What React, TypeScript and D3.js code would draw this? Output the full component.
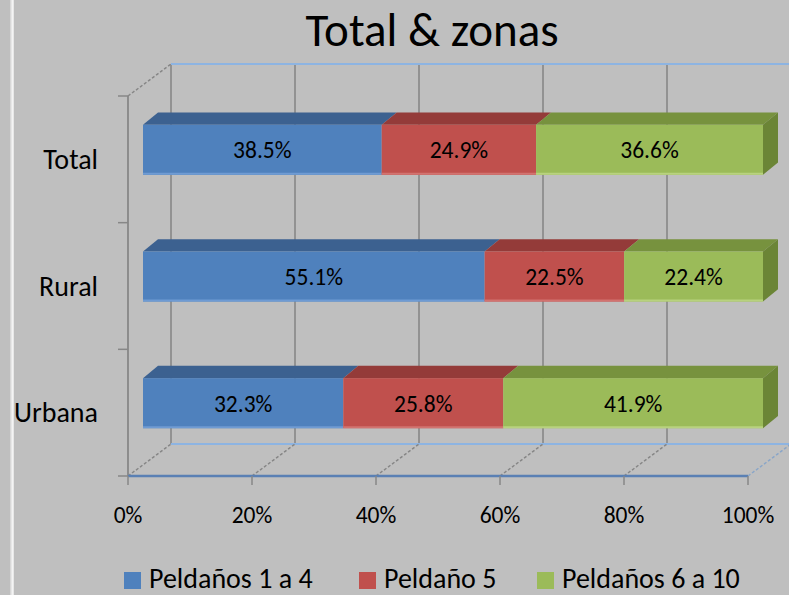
import React from "react";
import * as d3 from "d3";

const categories = ["Total", "Rural", "Urbana"];
const peldanos1a4 = [38.5, 55.1, 32.3];
const peldano5 = [24.9, 22.5, 25.8];
const peldanos6a10 = [36.6, 22.4, 41.9];
const seriesNames = ["Peldaños 1 a 4", "Peldaño 5", "Peldaños 6 a 10"];
const xTicks = [0, 20, 40, 60, 80, 100];
const title = "Total & zonas";

const W = 789;
const H = 595;
const FONT = "Carlito, Lato, 'Open Sans', sans-serif";

const colors = [
  { front: "#4f81bd", top: "#3c6190", side: "#365a86", light: "#6f9bd3" },
  { front: "#c0504d", top: "#943b39", side: "#8a3633", light: "#d27370" },
  { front: "#9bbb59", top: "#77923e", side: "#6b8536", light: "#b8d27f" },
];

export default function App() {
  const x = d3.scaleLinear().domain([0, 100]).range([128, 748]);
  const y = d3.scaleBand().domain(categories).range([96, 476]).padding(0);
  const wall = { dx: 43, dy: -32 };
  const barFront = { dx: 15, dy: -9.5 };
  const barBack = { dx: 30, dy: -21.8 };
  const barH = y.bandwidth() * 0.395;
  const plotTop = 96;
  const plotBottom = 476;
  const series = [peldanos1a4, peldano5, peldanos6a10];

  const gridColor = "#878787";
  const lightBlue = "#8db4e2";

  const pts = (arr: number[][]) => arr.map((p) => p.join(",")).join(" ");

  return (
    <svg
      width={W}
      height={H}
      style={{ position: "fixed", left: 0, top: 0, background: "#bfbfbf" }}
      fontFamily={FONT}
    >
      <rect x={0} y={0} width={W} height={H} fill="#bfbfbf" />
      {/* left white border */}
      <line x1={12.5} x2={12.5} y1={0} y2={H} stroke="#f4f4f4" strokeWidth={2.5} />
      <line x1={10.5} x2={10.5} y1={0} y2={H} stroke="#d8d8d8" strokeWidth={1} />

      {/* title */}
      <text x={432} y={46} textAnchor="middle" fontSize={47} fill="#000">
        {title}
      </text>

      {/* back wall vertical gridlines */}
      {xTicks.map((t) => (
        <line
          key={"bg" + t}
          x1={x(t) + wall.dx}
          x2={x(t) + wall.dx}
          y1={plotTop + wall.dy}
          y2={plotBottom + wall.dy}
          stroke={gridColor}
          strokeWidth={1.6}
        />
      ))}
      {/* back wall top edge & back floor edge */}
      <line x1={x(0) + wall.dx} x2={W} y1={plotTop + wall.dy} y2={plotTop + wall.dy} stroke={lightBlue} strokeWidth={2} />
      <line x1={x(0) + wall.dx} x2={W} y1={plotBottom + wall.dy} y2={plotBottom + wall.dy} stroke={lightBlue} strokeWidth={2} />

      {/* floor diagonal gridlines */}
      {xTicks.map((t) => (
        <line
          key={"fl" + t}
          x1={x(t)}
          y1={plotBottom}
          x2={x(t) + wall.dx}
          y2={plotBottom + wall.dy}
          stroke={t === 100 ? "#8aa6c8" : gridColor}
          strokeWidth={1.5}
          strokeDasharray="3 2"
        />
      ))}
      {/* left wall top diagonal */}
      <line x1={x(0)} y1={plotTop} x2={x(0) + wall.dx} y2={plotTop + wall.dy} stroke={gridColor} strokeWidth={1.5} strokeDasharray="3 2" />

      {/* left axis */}
      <line x1={x(0)} x2={x(0)} y1={plotTop} y2={plotBottom} stroke={gridColor} strokeWidth={1.8} />
      {[...categories.map((c) => y(c) as number), plotBottom].map((v, i) => (
        <line key={"ct" + i} x1={x(0) - 10} x2={x(0)} y1={v} y2={v} stroke={gridColor} strokeWidth={1.5} />
      ))}

      {/* bars */}
      {categories.map((c, ci) => {
        const cy = (y(c) as number) + y.bandwidth() / 2;
        const fy0 = cy - barH / 2 + barFront.dy;
        const fy1 = fy0 + barH;
        const ddx = barBack.dx - barFront.dx;
        const ddy = barBack.dy - barFront.dy;
        let acc = 0;
        const segs = series.map((s, si) => {
          const v0 = acc;
          acc += s[ci];
          return { si, v0, v1: acc, val: s[ci] };
        });
        return (
          <g key={c}>
            {segs.map(({ si, v0, v1 }) => {
              const a = x(v0) + barFront.dx;
              const b = x(v1) + barFront.dx;
              return (
                <g key={si}>
                  <polygon points={pts([[a, fy0], [b, fy0], [b + ddx, fy0 + ddy], [a + ddx, fy0 + ddy]])} fill={colors[si].top} />
                  <rect x={a} y={fy0} width={b - a} height={barH} fill={colors[si].front} />
                  <line x1={a} x2={b} y1={fy1 - 1} y2={fy1 - 1} stroke={colors[si].light} strokeWidth={2} />
                  {si === segs.length - 1 && (
                    <polygon points={pts([[b, fy0], [b + ddx, fy0 + ddy], [b + ddx, fy1 + ddy], [b, fy1]])} fill={colors[si].side} />
                  )}
                </g>
              );
            })}
            {segs.map(({ si, v0, v1, val }) => (
              <text
                key={"l" + si}
                x={(x(v0) + x(v1)) / 2 + barFront.dx}
                y={(fy0 + fy1) / 2 + 8.5}
                textAnchor="middle"
                fontSize={23.5}
                fill="#000"
              >
                {val.toFixed(1) + "%"}
              </text>
            ))}
          </g>
        );
      })}

      {/* front axis line */}
      <line x1={x(0)} x2={x(100)} y1={plotBottom} y2={plotBottom} stroke="#5a80b4" strokeWidth={2.5} />
      {xTicks.map((t) => (
        <line key={"xt" + t} x1={x(t)} x2={x(t)} y1={plotBottom} y2={plotBottom + 9} stroke={gridColor} strokeWidth={1.5} />
      ))}
      {xTicks.map((t) => (
        <text key={"xl" + t} x={x(t)} y={523} textAnchor="middle" fontSize={23.5} fill="#000">
          {t + "%"}
        </text>
      ))}

      {/* category labels */}
      {categories.map((c) => (
        <text key={"cl" + c} x={98} y={(y(c) as number) + y.bandwidth() / 2 + 9.5} textAnchor="end" fontSize={28} fill="#000">
          {c}
        </text>
      ))}

      {/* legend */}
      {seriesNames.map((n, i) => {
        const lx = [124, 359, 537][i];
        return (
          <g key={"lg" + i}>
            <rect x={lx} y={572} width={17} height={17} fill={colors[i].front} />
            <text x={lx + 25} y={588} fontSize={28} fill="#000">
              {n}
            </text>
          </g>
        );
      })}
    </svg>
  );
}
